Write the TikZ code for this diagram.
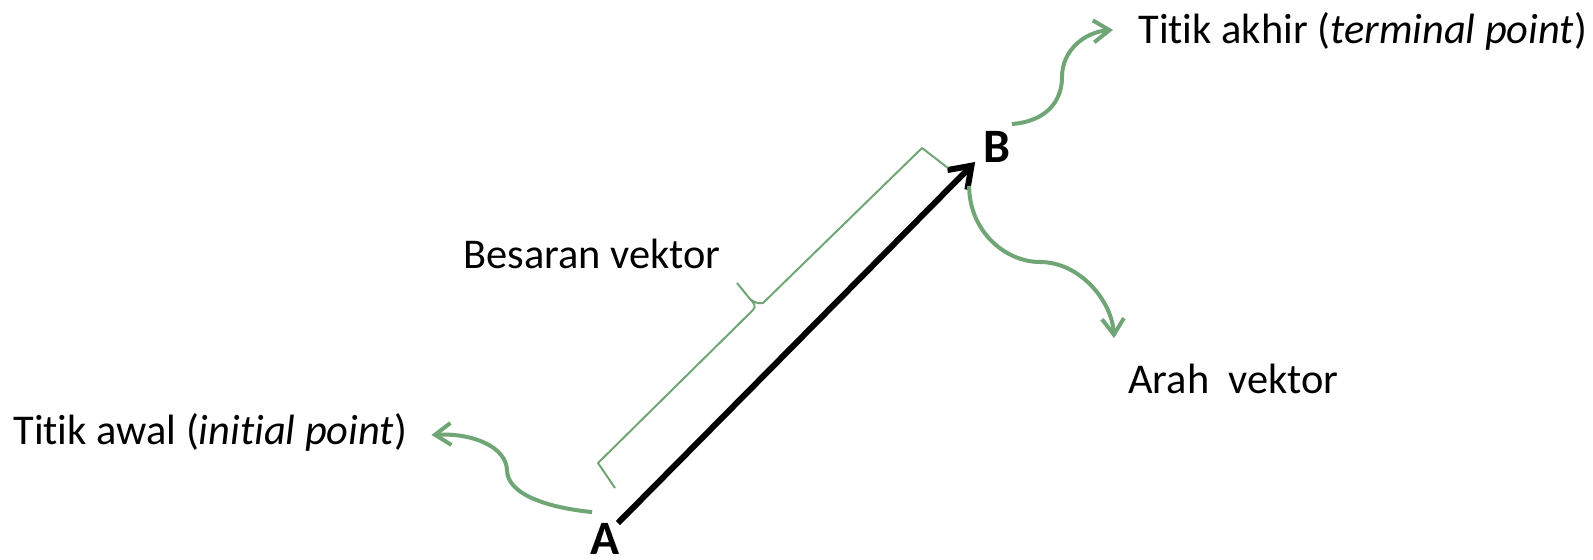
\documentclass[tikz,border=0pt]{standalone}
\usepackage{fontspec}
\setmainfont{Carlito}[Ligatures={NoCommon}]
\usepackage{xcolor}
\usetikzlibrary{arrows.meta,calc}
\definecolor{leafgreen}{RGB}{112,166,118}

\begin{document}
\begin{tikzpicture}[
    x=0.5pt, y=-0.5pt,
    caption/.style={anchor=base west, inner sep=0pt, font=\fontsize{21.2}{25}\selectfont},
    endpoint/.style={inner sep=0pt, font=\fontsize{24}{28}\selectfont\bfseries},
    vec/.style={-{Straight Barb[length=10pt,width=14pt]}, line width=3pt},
    pointer/.style={-{Straight Barb[length=8pt,width=11pt]}, leafgreen, line width=2pt},
    bracket/.style={leafgreen, line width=1pt, line join=round}
]
\useasboundingbox (0,0) rectangle (1593,559);

\node[endpoint] (A) at (605,539) {A};
\node[endpoint] (B) at (997,147) {B};

\node[caption] (init) at (13,444) {Titik awal (\textit{initial point})};
\node[caption] (term) at (1138,43) {Titik akhir (\textit{terminal point})};
\node[caption] (mag) at (463,268) {Besaran vektor};
\node[caption] (dir) at (1128,393) {Arah\ \ vektor};

% the vector itself
\draw[vec] ([shift={(-2,0)}]A.north east) -- ([shift={(-8,-1)}]B.south west);

% magnitude bracket
\coordinate (brA) at (615,488);
\coordinate (brAc) at (598,463);
\coordinate (brM) at (755,308);
\coordinate (brTip) at (737,283);
\coordinate (brBc) at (922,148);
\coordinate (brB) at (948,168);
\draw[bracket] (brA) -- (brAc) -- ([shift={(-2,2)}]brM)
    .. controls +(4,-4) and +(3,3) .. ([shift={(-5,-9)}]brM) -- (brTip);
\draw[bracket] ([shift={(-5,-9)}]brM)
    .. controls +(3,3) and +(-4,1) .. ([shift={(8,-5)}]brM) -- (brBc) -- (brB);

% pointers to the captions
\draw[pointer] ([shift={(2,-11)}]A.north west)
    .. controls +(-42,-4) and +(0,25) .. (507,470)
    .. controls +(-1,-23) and +(42,-2) .. ([shift={(24,3)}]init.east);
\draw[pointer] ([shift={(1,-7)}]B.north east)
    .. controls +(36,-3) and +(0,23) .. (1062,77)
    .. controls +(0,-27) and +(-28,2) .. ([shift={(-25,-1)}]term.west);
\draw[pointer] ([shift={(-14,23)}]B.south west)
    .. controls +(0,45) and +(-35,0) .. (1040,262)
    .. controls +(40,0) and +(-2,-37) .. ([shift={(-14,-25)}]dir.north west);
\end{tikzpicture}
\end{document}
